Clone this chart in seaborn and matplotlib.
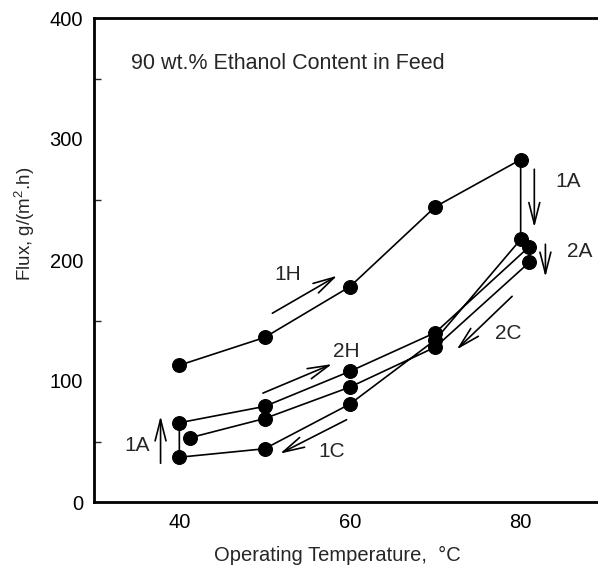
import matplotlib
matplotlib.use("Agg")
import matplotlib.pyplot as plt
import seaborn as sns
import pandas as pd
from matplotlib.ticker import MultipleLocator, FixedLocator

# Measurement path (heating 1H -> aging 1A -> cooling 1C -> aging 1A -> heating 2H -> aging 2A -> cooling 2C)
temperature = [40, 50, 60, 70, 80,
               80, 70, 60, 50, 40,
               40, 50, 60, 70, 81,
               81, 70, 60, 50, 41.2]
flux = [113, 136, 178, 244, 283,
        217, 134, 81, 44, 37,
        65.5, 79, 108, 140, 211,
        198, 128, 95, 69, 53]
order = list(range(len(temperature)))

title_text = "90 wt.% Ethanol Content in Feed"
x_label = "Operating Temperature,  \u00b0C"
y_label = "Flux, g/(m$^2$.h)"
y_ticks = [0, 100, 200, 300, 400]
x_ticks = [40, 50, 60, 70, 80]
x_ticklabels = ["40", "", "60", "", "80"]

# annotations: label, label position, arrow start, arrow end
annotations = [
    ("1H", (52.7, 188), (50.9, 156), (58.5, 187)),
    ("2H", (59.6, 124), (49.8, 90), (57.9, 114)),
    ("1C", (57.9, 41.5), (59.6, 68), (51.8, 40)),
    ("2C", (78.6, 139.5), (79.0, 170), (72.5, 126)),
    ("1A", (85.6, 265), (81.6, 275), (81.6, 227)),
    ("2A", (86.9, 207), (82.9, 213), (82.9, 186)),
    ("1A", (35.0, 47), (37.8, 32), (37.8, 71)),
]

df = pd.DataFrame({"order": order, "Temperature": temperature, "Flux": flux})

sns.set_style("white")
plt.rcParams["font.family"] = ["Liberation Sans", "DejaVu Sans"]
plt.rcParams["mathtext.fontset"] = "custom"
plt.rcParams["mathtext.rm"] = "Liberation Sans"

fig = plt.figure(figsize=(5.98, 5.76), dpi=100)
ax = fig.add_axes([94 / 598, 74 / 576, 512 / 598, 484 / 576])

sns.lineplot(data=df, x="Temperature", y="Flux", sort=False, estimator=None,
             color="black", linewidth=1.2, marker="o", markersize=10,
             markeredgecolor="black", markerfacecolor="black", ax=ax)

ax.set_xlim(30, 90)
ax.set_ylim(0, 400)

ax.xaxis.set_major_locator(FixedLocator(x_ticks))
ax.set_xticklabels(x_ticklabels)
ax.yaxis.set_major_locator(FixedLocator(y_ticks))
ax.yaxis.set_minor_locator(MultipleLocator(50))
ax.tick_params(axis="both", which="major", direction="in", length=6, width=1.0,
               labelsize=14.5, pad=8, color="black", labelcolor="black")
ax.tick_params(axis="y", which="minor", direction="in", length=5, width=1.0, left=True)

for side in ["left", "bottom", "top"]:
    ax.spines[side].set_linewidth(2.0)
    ax.spines[side].set_color("black")
ax.spines["right"].set_visible(False)

ax.set_xlabel(x_label, fontsize=14.5)
ax.set_ylabel(y_label, fontsize=13.5)
ax.xaxis.set_label_coords(0.475, -0.09)
ax.yaxis.set_label_coords(-0.112, 0.575)

ax.text(34.3, 362.5, title_text, fontsize=15.5, ha="left", va="center")

for lab, lpos, start, end in annotations:
    ax.annotate("", xy=end, xytext=start,
                arrowprops=dict(arrowstyle="->,head_length=1.1,head_width=0.28",
                                color="black", lw=1.2,
                                shrinkA=0, shrinkB=0, mutation_scale=14))
    ax.text(lpos[0], lpos[1], lab, fontsize=15, ha="center", va="center")

fig.savefig("out.png", dpi=100)
